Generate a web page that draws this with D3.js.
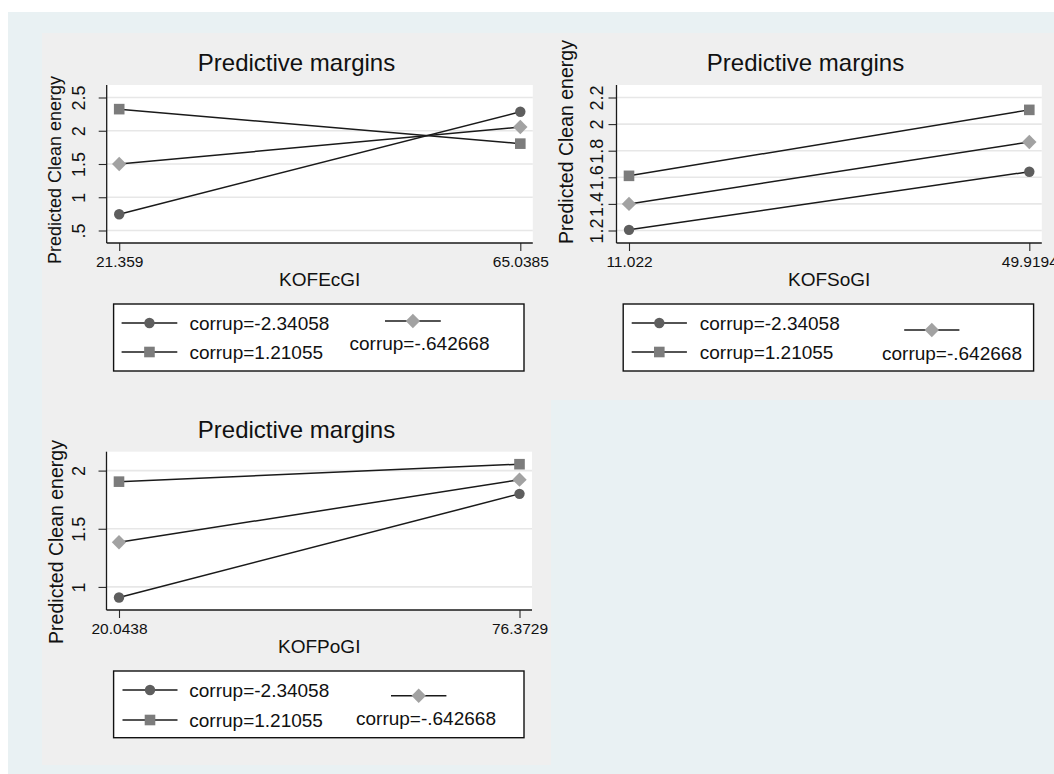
<!DOCTYPE html>
<html>
<head>
<meta charset="utf-8">
<script src="https://cdn.jsdelivr.net/npm/d3@7"></script>
<style>
  html, body { margin: 0; padding: 0; background: #ffffff; }
  svg { display: block; font-family: "Liberation Sans", Arial, Helvetica, sans-serif; }
</style>
</head>
<body>
<svg id="chart" width="1054" height="774"></svg>
<script>
// Predictive margins of clean energy at two globalisation levels,
// one line per corruption level.
const seriesNames = ["corrup=-2.34058", "corrup=-.642668", "corrup=1.21055"];

// KOF economic globalisation
const kofEcGI = [21.359, 65.0385];
const kofEcLabels = ["21.359", "65.0385"];
const ecLow = [0.745, 2.285];
const ecMid = [1.50, 2.056];
const ecHigh = [2.325, 1.806];
const ecYTicks = [0.5, 1, 1.5, 2, 2.5];
const ecYLabels = [".5", "1", "1.5", "2", "2.5"];

// KOF social globalisation
const kofSoGI = [11.022, 49.9194];
const kofSoLabels = ["11.022", "49.9194"];
const soLow = [1.205, 1.642];
const soMid = [1.40, 1.865];
const soHigh = [1.611, 2.107];
const soYTicks = [1.2, 1.4, 1.6, 1.8, 2, 2.2];
const soYLabels = ["1.2", "1.4", "1.6", "1.8", "2", "2.2"];

// KOF political globalisation
const kofPoGI = [20.0438, 76.3729];
const kofPoLabels = ["20.0438", "76.3729"];
const poLow = [0.909, 1.80];
const poMid = [1.384, 1.922];
const poHigh = [1.905, 2.055];
const poYTicks = [1, 1.5, 2];
const poYLabels = ["1", "1.5", "2"];

// marker styles per series: circle, diamond, square
const markerShapes = ["circle", "diamond", "square"];
const markerFills = ["#5e5e5e", "#a2a2a2", "#7c7c7c"];

const svg = d3.select("#chart");

// graph region backgrounds
svg.append("rect").attr("x", 8).attr("y", 12).attr("width", 1046).attr("height", 762).attr("fill", "#e9f1f3");
svg.append("rect").attr("x", 42).attr("y", 33).attr("width", 1012).attr("height", 367).attr("fill", "#efefef");
svg.append("rect").attr("x", 42).attr("y", 400).attr("width", 509).attr("height", 365).attr("fill", "#efefef");

function drawMarker(g, shape, cx, cy, fill) {
  if (shape === "circle") {
    g.append("circle").attr("cx", cx).attr("cy", cy).attr("r", 5.2).attr("fill", fill);
  } else if (shape === "square") {
    g.append("rect").attr("x", cx - 5.3).attr("y", cy - 5.3).attr("width", 10.6).attr("height", 10.6).attr("fill", fill);
  } else {
    const s = 7.2;
    g.append("path").attr("d", `M${cx},${cy - s}L${cx + s},${cy}L${cx},${cy + s}L${cx - s},${cy}Z`).attr("fill", fill);
  }
}

function drawPanel(p) {
  const g = svg.append("g");
  const pad = 12.5;
  const x = d3.scaleLinear().domain(d3.extent(p.xVals)).range([p.left + pad, p.right - pad]);
  const allY = p.series.flat().concat(p.yTicks);
  const y = d3.scaleLinear().domain(d3.extent(allY)).range([p.bottom - pad, p.top + pad]);

  // plot region
  g.append("rect").attr("x", p.left).attr("y", p.top)
    .attr("width", p.right - p.left).attr("height", p.bottom - p.top).attr("fill", "#ffffff");

  // horizontal grid
  g.selectAll(".grid").data(p.yTicks).join("line")
    .attr("x1", p.left).attr("x2", p.right)
    .attr("y1", d => y(d)).attr("y2", d => y(d))
    .attr("stroke", "#e7e7e7").attr("stroke-width", 1.6);

  // y axis
  const yAxis = g.append("g").attr("transform", `translate(${p.left},0)`)
    .call(d3.axisLeft(y).tickValues(p.yTicks).tickSize(8).tickSizeOuter(0)
      .tickFormat((d, i) => p.yLabels[i]));
  yAxis.select(".domain").remove();
  yAxis.selectAll(".tick line").attr("stroke", "#2a2a2a").attr("stroke-width", 1.1);
  yAxis.selectAll(".tick text")
    .attr("transform", "rotate(-90)")
    .attr("x", 0).attr("y", -(p.left - p.yTickX)).attr("dy", 0)
    .attr("text-anchor", "middle")
    .attr("font-size", 18).attr("fill", "#111")
    .attr("font-family", "Liberation Sans, Arial, sans-serif");

  // x axis
  const xAxis = g.append("g").attr("transform", `translate(0,${p.bottom})`)
    .call(d3.axisBottom(x).tickValues(p.xVals).tickSize(8).tickSizeOuter(0)
      .tickFormat((d, i) => p.xLabels[i]));
  xAxis.select(".domain").remove();
  xAxis.selectAll(".tick line").attr("stroke", "#2a2a2a").attr("stroke-width", 1.1);
  xAxis.selectAll(".tick text")
    .attr("y", p.xTickY - p.bottom).attr("dy", 0)
    .attr("font-size", 15.5).attr("fill", "#111")
    .attr("font-family", "Liberation Sans, Arial, sans-serif");

  // axis lines on the plot region edges
  g.append("line").attr("x1", p.left).attr("x2", p.left).attr("y1", p.top).attr("y2", p.bottom)
    .attr("stroke", "#1a1a1a").attr("stroke-width", 1.3);
  g.append("line").attr("x1", p.left).attr("x2", p.right).attr("y1", p.bottom).attr("y2", p.bottom)
    .attr("stroke", "#1a1a1a").attr("stroke-width", 1.3);

  // connected lines
  const line = d3.line().x((d, i) => x(p.xVals[i])).y(d => y(d));
  p.series.forEach(vals => {
    g.append("path").attr("d", line(vals)).attr("fill", "none")
      .attr("stroke", "#1a1a1a").attr("stroke-width", 1.5);
  });
  p.series.forEach((vals, s) => {
    vals.forEach((v, i) => drawMarker(g, markerShapes[s], x(p.xVals[i]), y(v), markerFills[s]));
  });

  // titles
  g.append("text").attr("x", p.titleX).attr("y", p.titleY).attr("text-anchor", "middle")
    .attr("font-size", 24).attr("fill", "#111").text("Predictive margins");
  g.append("text").attr("x", (p.left + p.right) / 2).attr("y", p.xTitleY).attr("text-anchor", "middle")
    .attr("font-size", 19).attr("fill", "#111").text(p.xTitle);
  g.append("text").attr("transform", `translate(${p.yTitleX},${p.yTitleY}) rotate(-90)`)
    .attr("text-anchor", "middle").attr("font-size", p.yTitleSize).attr("fill", "#111")
    .text("Predicted Clean energy");

  // legend
  const L = p.legend;
  g.append("rect").attr("x", L.x0).attr("y", L.y0).attr("width", L.x1 - L.x0).attr("height", L.y1 - L.y0)
    .attr("fill", "#ffffff").attr("stroke", "#111").attr("stroke-width", 1.4);
  const items = [
    { s: 0, lx: L.lineX, ly: L.rows[0], tx: L.textX, ty: L.rows[0] + 6.8 },
    { s: 2, lx: L.lineX, ly: L.rows[1], tx: L.textX, ty: L.rows[1] + 6.8 },
    { s: 1, lx: L.dLine, ly: L.dY, tx: L.dTextX, ty: L.dTextY + 6.8 }
  ];
  items.forEach(it => {
    g.append("line").attr("x1", it.lx[0]).attr("x2", it.lx[1]).attr("y1", it.ly).attr("y2", it.ly)
      .attr("stroke", "#1a1a1a").attr("stroke-width", 1.5);
    drawMarker(g, markerShapes[it.s], (it.lx[0] + it.lx[1]) / 2, it.ly, markerFills[it.s]);
    g.append("text").attr("x", it.tx).attr("y", it.ty).attr("font-size", 19).attr("fill", "#111")
      .text(seriesNames[it.s]);
  });
}

drawPanel({
  xVals: kofEcGI, xLabels: kofEcLabels, xTitle: "KOFEcGI",
  series: [ecLow, ecMid, ecHigh], yTicks: ecYTicks, yLabels: ecYLabels,
  left: 106.7, right: 532.8, top: 85, bottom: 243,
  titleX: 296.5, titleY: 71, xTickY: 267.3, xTitleY: 286,
  yTickX: 85, yTitleX: 61, yTitleY: 170, yTitleSize: 18,
  legend: { x0: 113.6, x1: 524, y0: 304, y1: 371, rows: [323, 352], lineX: [121.6, 177.3], textX: 189.4,
            dLine: [385, 440.8], dY: 321, dTextX: 349.5, dTextY: 343 }
});

drawPanel({
  xVals: kofSoGI, xLabels: kofSoLabels, xTitle: "KOFSoGI",
  series: [soLow, soMid, soHigh], yTicks: soYTicks, yLabels: soYLabels,
  left: 616.5, right: 1041.8, top: 85, bottom: 243,
  titleX: 805.5, titleY: 71, xTickY: 267.3, xTitleY: 286,
  yTickX: 603, yTitleX: 573, yTitleY: 142, yTitleSize: 19.5,
  legend: { x0: 623.2, x1: 1033.6, y0: 304, y1: 371, rows: [323, 352], lineX: [631.7, 686.9], textX: 699.8,
            dLine: [904.2, 959.4], dY: 330, dTextX: 882, dTextY: 353 }
});

drawPanel({
  xVals: kofPoGI, xLabels: kofPoLabels, xTitle: "KOFPoGI",
  series: [poLow, poMid, poHigh], yTicks: poYTicks, yLabels: poYLabels,
  left: 106.5, right: 532, top: 451.7, bottom: 610,
  titleX: 296.5, titleY: 438.3, xTickY: 634, xTitleY: 652.7,
  yTickX: 85, yTitleX: 63, yTitleY: 542, yTitleSize: 19.5,
  legend: { x0: 113.6, x1: 524, y0: 671, y1: 737.7, rows: [690, 720], lineX: [122.5, 177.5], textX: 189.3,
            dLine: [391, 446.4], dY: 695.7, dTextX: 356, dTextY: 718 }
});
</script>
</body>
</html>
